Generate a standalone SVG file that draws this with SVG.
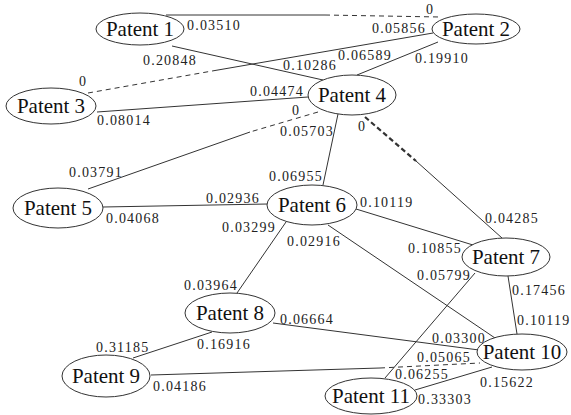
<svg xmlns="http://www.w3.org/2000/svg" width="571" height="415" viewBox="0 0 571 415">
<style>
.n ellipse{fill:#fff;stroke:#333;stroke-width:1}
.n text{font-size:21px;fill:#111;text-anchor:middle}
.e line{stroke:#333;stroke-width:1;fill:none}
.e .d{stroke-dasharray:5 4}
.e .t{stroke-width:2.2;stroke-dasharray:5 3}
.l text{font-size:14px;fill:#222;letter-spacing:1.2px}
</style>
<rect width="571" height="415" fill="#fff"/>
<g id="edges" class="e">
<line x1="166" y1="15" x2="325" y2="15"/>
<line class="d" x1="325" y1="15" x2="440" y2="17"/>
<line x1="172" y1="46" x2="323" y2="80"/>
<line class="d" x1="88" y1="93" x2="215" y2="70.5"/>
<line x1="215" y1="70.5" x2="433" y2="33"/>
<line x1="438" y1="42" x2="357" y2="75"/>
<line x1="97" y1="112" x2="308" y2="97"/>
<line class="d" x1="318" y1="112" x2="250" y2="132"/>
<line x1="250" y1="132" x2="88" y2="189"/>
<line x1="338" y1="114" x2="323" y2="185"/>
<line class="t" x1="365" y1="117" x2="416" y2="161"/>
<line x1="416" y1="161" x2="502" y2="238"/>
<line x1="103" y1="207" x2="268" y2="204"/>
<line x1="356" y1="209" x2="473" y2="245"/>
<line x1="286" y1="222" x2="237" y2="293"/>
<line x1="328" y1="225" x2="495" y2="338"/>
<line x1="508" y1="276" x2="517" y2="334"/>
<line x1="475" y1="273" x2="385" y2="378"/>
<line x1="212" y1="332" x2="133" y2="358"/>
<line x1="273" y1="323" x2="479" y2="350"/>
<line x1="151" y1="375" x2="380" y2="368"/>
<line class="d" x1="380" y1="368" x2="480" y2="363"/>
<line x1="492" y1="367" x2="415" y2="390"/>
</g>
<g id="labels" class="l" font-family="Liberation Serif, DejaVu Serif, serif">
<text x="187" y="30">0.03510</text>
<text x="426" y="14">0</text>
<text x="372" y="33">0.05856</text>
<text x="143" y="65">0.20848</text>
<text x="79" y="86">0</text>
<text x="250" y="96">0.04474</text>
<text x="97" y="125">0.08014</text>
<text x="283" y="70">0.10286</text>
<text x="338" y="60">0.06589</text>
<text x="415" y="63">0.19910</text>
<text x="292" y="115">0</text>
<text x="280" y="136">0.05703</text>
<text x="358" y="131">0</text>
<text x="69" y="177">0.03791</text>
<text x="269" y="181">0.06955</text>
<text x="206" y="203">0.02936</text>
<text x="106" y="223">0.04068</text>
<text x="222" y="232">0.03299</text>
<text x="360" y="207">0.10119</text>
<text x="287" y="246">0.02916</text>
<text x="485" y="223">0.04285</text>
<text x="408" y="253">0.10855</text>
<text x="417" y="280">0.05799</text>
<text x="184" y="290">0.03964</text>
<text x="280" y="324">0.06664</text>
<text x="512" y="295">0.17456</text>
<text x="517" y="325">0.10119</text>
<text x="432" y="343">0.03300</text>
<text x="417" y="362">0.05065</text>
<text x="395" y="379">0.06255</text>
<text x="480" y="387">0.15622</text>
<text x="418" y="404">0.33303</text>
<text x="96" y="352">0.31185</text>
<text x="197" y="349">0.16916</text>
<text x="153" y="391">0.04186</text>
</g>
<g id="nodes" font-family="Liberation Serif, DejaVu Serif, serif">
<g id="patent1" class="n"><ellipse cx="140" cy="29" rx="44" ry="16"/><text x="140" y="36">Patent 1</text></g>
<g id="patent2" class="n"><ellipse cx="476" cy="29" rx="44" ry="15"/><text x="476" y="36">Patent 2</text></g>
<g id="patent3" class="n"><ellipse cx="51" cy="106" rx="45" ry="18"/><text x="51" y="113">Patent 3</text></g>
<g id="patent4" class="n"><ellipse cx="352" cy="95" rx="44" ry="20"/><text x="352" y="102">Patent 4</text></g>
<g id="patent5" class="n"><ellipse cx="58" cy="208" rx="45" ry="20"/><text x="58" y="215">Patent 5</text></g>
<g id="patent6" class="n"><ellipse cx="312" cy="205" rx="45" ry="20"/><text x="312" y="212">Patent 6</text></g>
<g id="patent7" class="n"><ellipse cx="506" cy="257" rx="44" ry="19"/><text x="506" y="264">Patent 7</text></g>
<g id="patent8" class="n"><ellipse cx="230" cy="313" rx="45" ry="20"/><text x="230" y="320">Patent 8</text></g>
<g id="patent9" class="n"><ellipse cx="106" cy="376" rx="44" ry="21"/><text x="106" y="383">Patent 9</text></g>
<g id="patent10" class="n"><ellipse cx="522" cy="352" rx="45" ry="18"/><text x="522" y="359">Patent 10</text></g>
<g id="patent11" class="n"><ellipse cx="371" cy="396" rx="46" ry="18"/><text x="371" y="403">Patent 11</text></g>
</g>
</svg>
